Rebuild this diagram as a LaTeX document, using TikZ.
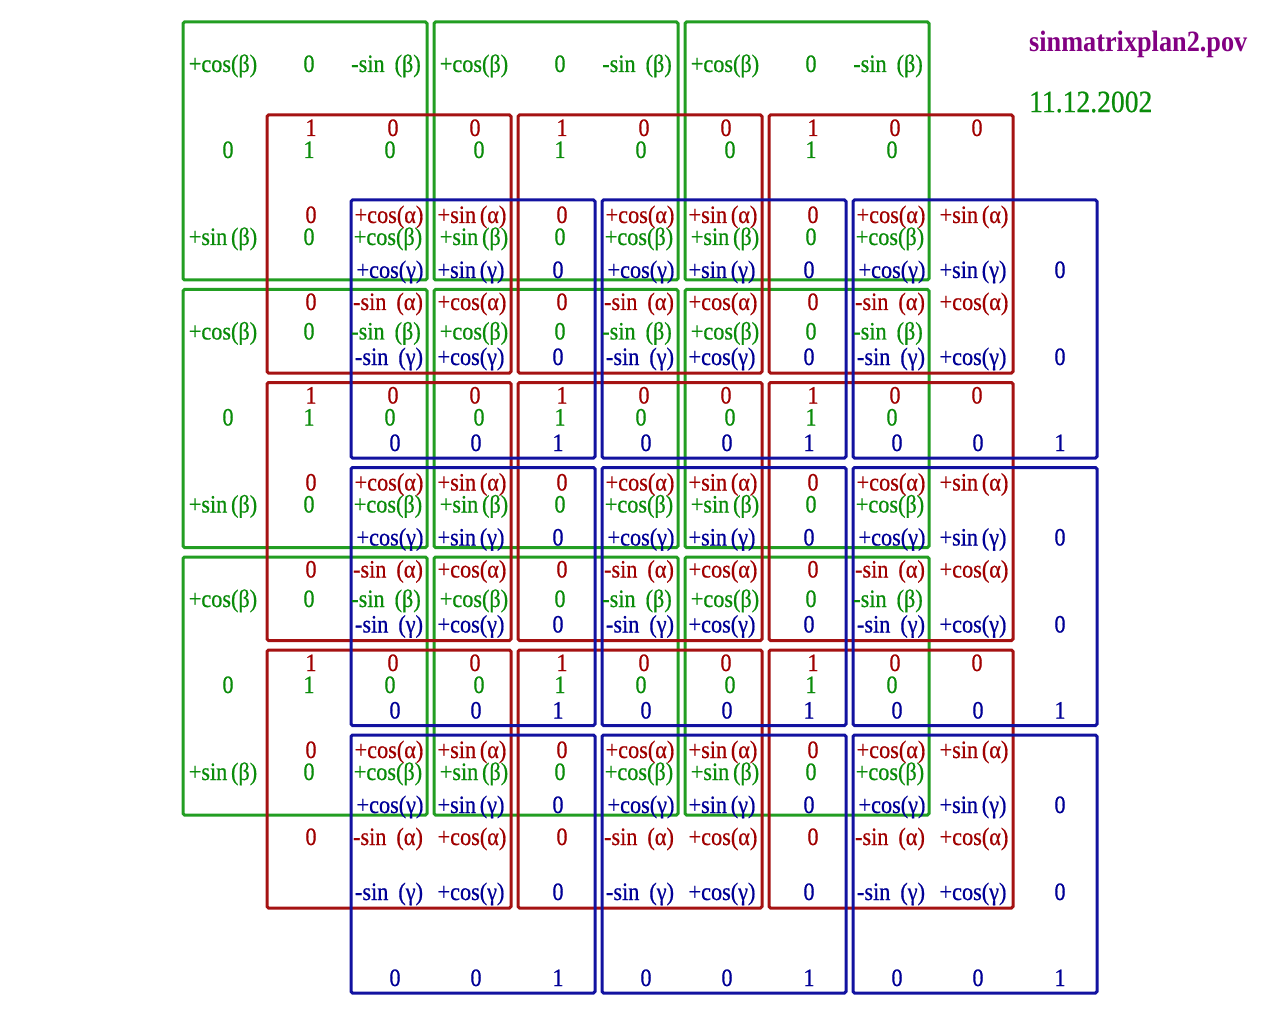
\documentclass[tikz,border=0pt]{standalone}
\usepackage{fontspec}
\setmainfont{Liberation Serif}[FakeStretch=0.89,FakeBold=0.6]
\newfontfamily\titlefont{Liberation Serif Bold}[FakeStretch=0.89]
\definecolor{gline}{RGB}{34,158,34}
\definecolor{rline}{RGB}{165,18,18}
\definecolor{bline}{RGB}{18,18,160}
\definecolor{gtext}{RGB}{10,140,10}
\definecolor{rtext}{RGB}{160,0,0}
\definecolor{btext}{RGB}{0,0,150}
\definecolor{ptext}{RGB}{130,0,130}
\newcommand\mkbox[4]{% #1 style, #2 name, #3 x, #4 y
  \node[#1] (#2) at (#3,#4) {};}
\newcommand\gtexts[2]{%
  \pgfmathsetmacro\bxX{183+251*#1}%
  \pgfmathsetmacro\bxY{22+267.5*#2}%
  \node[gt] (G#1#2-11) at (\bxX+40,\bxY+42) {+cos(β)};
  \node[gt] (G#1#2-12) at (\bxX+126,\bxY+42) {0};
  \node[gt] (G#1#2-13) at (\bxX+203,\bxY+42) {-sin\hspace{0.4em}(β)};
  \node[gt] (G#1#2-21) at (\bxX+45,\bxY+128) {0};
  \node[gt] (G#1#2-22) at (\bxX+126,\bxY+128) {1};
  \node[gt] (G#1#2-23) at (\bxX+207,\bxY+128) {0};
  \node[gt] (G#1#2-31) at (\bxX+40,\bxY+215) {+sin\hspace{0.15em}(β)};
  \node[gt] (G#1#2-32) at (\bxX+126,\bxY+215) {0};
  \node[gt] (G#1#2-33) at (\bxX+205,\bxY+215) {+cos(β)};}
\newcommand\rtexts[2]{%
  \pgfmathsetmacro\bxX{267+251*#1}%
  \pgfmathsetmacro\bxY{115+267.5*#2}%
  \node[rt] (R#1#2-11) at (\bxX+44,\bxY+13) {1};
  \node[rt] (R#1#2-12) at (\bxX+126,\bxY+13) {0};
  \node[rt] (R#1#2-13) at (\bxX+208,\bxY+13) {0};
  \node[rt] (R#1#2-21) at (\bxX+44,\bxY+100) {0};
  \node[rt] (R#1#2-22) at (\bxX+122,\bxY+100) {+cos(α)};
  \node[rt] (R#1#2-23) at (\bxX+205,\bxY+100) {+sin\hspace{0.15em}(α)};
  \node[rt] (R#1#2-31) at (\bxX+44,\bxY+187) {0};
  \node[rt] (R#1#2-32) at (\bxX+121,\bxY+187) {-sin\hspace{0.4em}(α)};
  \node[rt] (R#1#2-33) at (\bxX+205,\bxY+187) {+cos(α)};}
\newcommand\btexts[2]{%
  \pgfmathsetmacro\bxX{351+251*#1}%
  \pgfmathsetmacro\bxY{200+267.5*#2}%
  \node[bt] (B#1#2-11) at (\bxX+39,\bxY+70) {+cos(γ)};
  \node[bt] (B#1#2-12) at (\bxX+120,\bxY+70) {+sin\hspace{0.15em}(γ)};
  \node[bt] (B#1#2-13) at (\bxX+207,\bxY+70) {0};
  \node[bt] (B#1#2-21) at (\bxX+38,\bxY+157) {-sin\hspace{0.4em}(γ)};
  \node[bt] (B#1#2-22) at (\bxX+120,\bxY+157) {+cos(γ)};
  \node[bt] (B#1#2-23) at (\bxX+207,\bxY+157) {0};
  \node[bt] (B#1#2-31) at (\bxX+44,\bxY+243) {0};
  \node[bt] (B#1#2-32) at (\bxX+125,\bxY+243) {0};
  \node[bt] (B#1#2-33) at (\bxX+207,\bxY+243) {1};}
\begin{document}
\begin{tikzpicture}[x=1pt,y=-1pt,
  mbox/.style={line width=3pt, rounded corners=1.5pt, minimum width=244pt,
    minimum height=258pt, anchor=north west, inner sep=0pt, outer sep=0pt},
  gbox/.style={mbox, draw=gline},
  rbox/.style={mbox, draw=rline},
  bbox/.style={mbox, draw=bline},
  tx/.style={font=\fontsize{25}{25}\selectfont, inner sep=0pt, outer sep=0pt,
    text height=16pt, text depth=0pt, anchor=center},
  gt/.style={tx, text=gtext},
  rt/.style={tx, text=rtext},
  bt/.style={tx, text=btext}]
\useasboundingbox (0,0) rectangle (1280,1024);
\fill[white] (0,0) rectangle (1280,1024);
\foreach \i in {0,1,2}{\foreach \j in {0,1,2}{%
  \pgfmathsetmacro\px{183+251*\i}\pgfmathsetmacro\py{22+267.5*\j}%
  \mkbox{gbox}{G\i\j}{\px}{\py}}}
\foreach \i in {0,1,2}{\foreach \j in {0,1,2}{%
  \pgfmathsetmacro\px{267+251*\i}\pgfmathsetmacro\py{115+267.5*\j}%
  \mkbox{rbox}{R\i\j}{\px}{\py}}}
\foreach \i in {0,1,2}{\foreach \j in {0,1,2}{%
  \pgfmathsetmacro\px{351+251*\i}\pgfmathsetmacro\py{200+267.5*\j}%
  \mkbox{bbox}{B\i\j}{\px}{\py}}}
\foreach \i in {0,1,2}{\foreach \j in {0,1,2}{\gtexts{\i}{\j}}}
\foreach \i in {0,1,2}{\foreach \j in {0,1,2}{\rtexts{\i}{\j}}}
\foreach \i in {0,1,2}{\foreach \j in {0,1,2}{\btexts{\i}{\j}}}
\node[anchor=west, inner sep=0pt, text=ptext, font=\titlefont\fontsize{29.5}{30}\selectfont]
  (title) at (1029,44) {sinmatrixplan2.pov};
\node[anchor=west, inner sep=0pt, text=gtext, font=\fontsize{31}{31}\selectfont]
  (date) at (1029,102) {11.12.2002};
\end{tikzpicture}
\end{document}
